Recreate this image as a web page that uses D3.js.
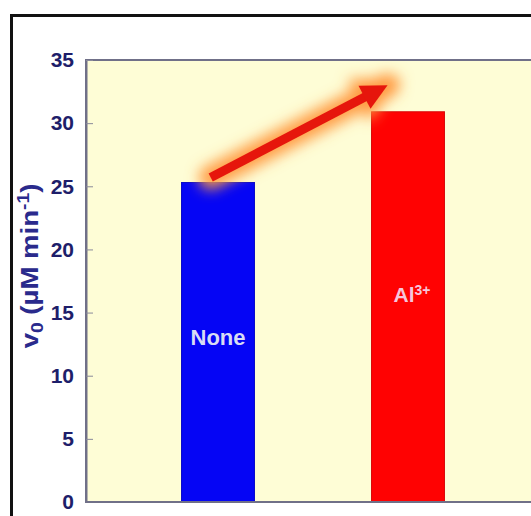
<!DOCTYPE html>
<html>
<head>
<meta charset="utf-8">
<script src="https://cdn.jsdelivr.net/npm/d3@7"></script>
<style>
  html, body { margin: 0; padding: 0; background: #ffffff; }
  svg { display: block; }
</style>
</head>
<body>
<svg id="chart" width="531" height="516"></svg>
<script>
// ---- data ----
const categories = ["None", "Al3+"];
const values = [25.3, 30.9];
const yTicks = [0, 5, 10, 15, 20, 25, 30, 35];
const barColors = ["#0505f5", "#ff0202"];
const arrowFrom = ["None", 25.7];   // [category, value]
const arrowTo = ["Al3+", 33.0];

// ---- layout ----
const W = 531, H = 516;
const plot = { left: 86, top: 60, right: 560, bottom: 502 };

const svg = d3.select("#chart");
const defs = svg.append("defs");

const glow = defs.append("filter").attr("id", "glow")
  .attr("x", "-40%").attr("y", "-80%").attr("width", "180%").attr("height", "260%");
glow.append("feGaussianBlur").attr("stdDeviation", 7);

const y = d3.scaleLinear().domain([0, 35]).range([plot.bottom, plot.top]);
const x = d3.scaleBand().domain(categories).range([123, 503])
  .paddingInner(0.616).paddingOuter(0.308);

// outer frame
svg.append("rect").attr("x", 11.5).attr("y", 15.5)
  .attr("width", W + 20).attr("height", H + 20)
  .attr("fill", "#ffffff").attr("stroke", "#111111").attr("stroke-width", 3);

// plot background
svg.append("rect").attr("x", plot.left).attr("y", plot.top)
  .attr("width", plot.right - plot.left).attr("height", plot.bottom - plot.top)
  .attr("fill", "#fefdd6").attr("stroke", "#707088").attr("stroke-width", 2);

// bars
svg.selectAll("rect.bar").data(categories).join("rect")
  .attr("class", "bar")
  .attr("x", d => x(d))
  .attr("width", x.bandwidth())
  .attr("y", (d, i) => y(values[i]))
  .attr("height", (d, i) => y(0) - y(values[i]))
  .attr("fill", (d, i) => barColors[i])
  .attr("stroke", (d, i) => i === 0 ? "#0a0ac8" : "#d80a0a")
  .attr("stroke-width", 1);

// arrow
const ax1 = x(arrowFrom[0]) + x.bandwidth() * 0.40;
const ay1 = y(arrowFrom[1]);
const ax2 = x(arrowTo[0]) + x.bandwidth() * 0.22;
const ay2 = y(arrowTo[1]);
const ang = Math.atan2(ay2 - ay1, ax2 - ax1);
const headLen = 26, headW = 13;
const bx = ax2 - headLen * Math.cos(ang), by = ay2 - headLen * Math.sin(ang);
const px = -Math.sin(ang), py = Math.cos(ang);
const headPts = [[ax2, ay2], [bx + px * headW, by + py * headW], [bx - px * headW, by - py * headW]];

const glowG = svg.append("g").attr("filter", "url(#glow)");
glowG.append("line").attr("x1", ax1).attr("y1", ay1).attr("x2", ax2).attr("y2", ay2)
  .attr("stroke", "#ff9a40").attr("stroke-width", 24).attr("stroke-linecap", "round").attr("opacity", 0.95);
glowG.append("polygon").attr("points", headPts.map(p => p.join(",")).join(" "))
  .attr("fill", "#ff9a40").attr("stroke", "#ff9a40").attr("stroke-width", 14).attr("opacity", 0.95);

svg.append("line").attr("x1", ax1).attr("y1", ay1).attr("x2", bx + 2 * Math.cos(ang)).attr("y2", by + 2 * Math.sin(ang))
  .attr("stroke", "#e6160c").attr("stroke-width", 9);
svg.append("polygon").attr("points", headPts.map(p => p.join(",")).join(" "))
  .attr("fill", "#e6160c");

// y axis
const yAxis = d3.axisLeft(y).tickValues(yTicks).tickSize(-7).tickPadding(18).tickSizeOuter(0);
const gy = svg.append("g").attr("transform", `translate(${plot.left},0)`).call(yAxis);
gy.select(".domain").attr("stroke", "#707088").attr("stroke-width", 2);
gy.selectAll(".tick line").attr("stroke", "#8a8a9a").attr("stroke-width", 1);
gy.selectAll(".tick text")
  .attr("font-family", "Liberation Sans, Arial, sans-serif")
  .attr("font-weight", "bold").attr("font-size", 21)
  .attr("fill", "#1e1e6a").attr("x", -12);

// bottom axis line
svg.append("line").attr("x1", plot.left).attr("x2", W).attr("y1", plot.bottom).attr("y2", plot.bottom)
  .attr("stroke", "#707088").attr("stroke-width", 2);

// y label
const yl = svg.append("text")
  .attr("transform", "translate(38,266) rotate(-90) scale(1.2,1)")
  .attr("text-anchor", "middle")
  .attr("font-family", "Liberation Sans, Arial, sans-serif")
  .attr("font-weight", "bold").attr("font-size", 23)
  .attr("fill", "#2a2a8c");
yl.append("tspan").text("v");
yl.append("tspan").text("0").attr("font-size", 16).attr("dy", 5);
yl.append("tspan").text(" (µM min").attr("dy", -5);
yl.append("tspan").text("-1").attr("font-size", 16).attr("dy", -9);
yl.append("tspan").text(")").attr("dy", 9);

// bar labels
const labFont = "Liberation Sans, Arial, sans-serif";
svg.append("text").attr("x", x("None") + x.bandwidth() / 2).attr("y", 345)
  .attr("text-anchor", "middle").attr("font-family", labFont)
  .attr("font-weight", "bold").attr("font-size", 22).attr("fill", "#d8dcf4")
  .text("None");
const al = svg.append("text").attr("x", x("Al3+") + x.bandwidth() / 2 + 4).attr("y", 302)
  .attr("text-anchor", "middle").attr("font-family", labFont)
  .attr("font-weight", "bold").attr("font-size", 21).attr("fill", "#f6c6dc");
al.append("tspan").text("Al");
al.append("tspan").text("3+").attr("font-size", 14).attr("dy", -7);
</script>
</body>
</html>
